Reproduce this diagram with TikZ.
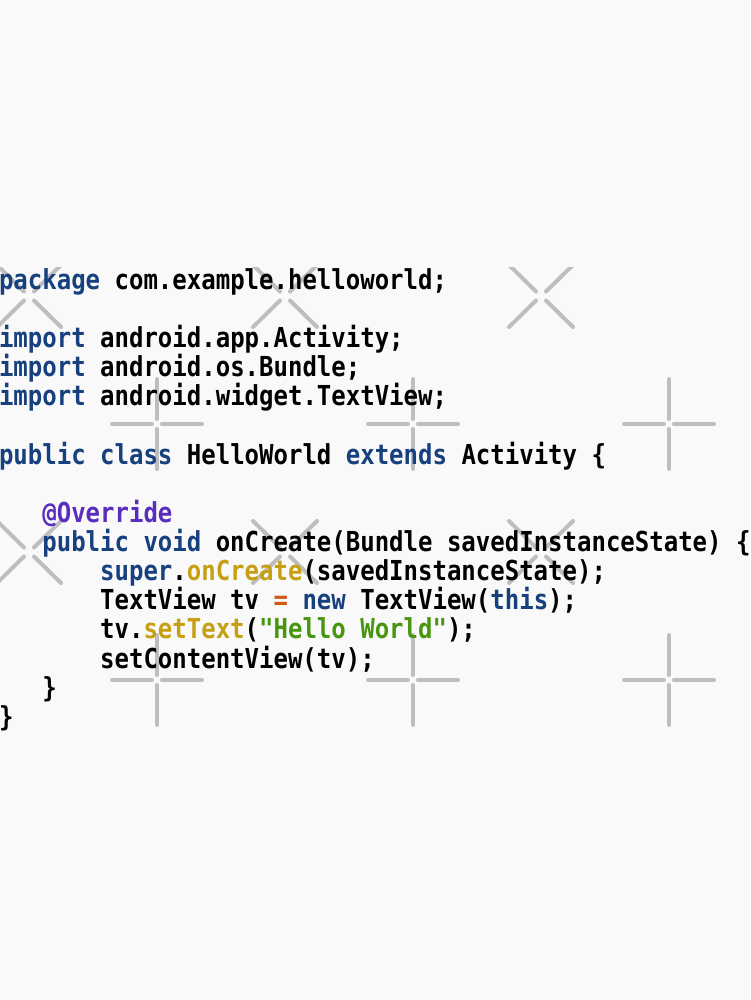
\documentclass[tikz,border=0pt]{standalone}
\usepackage{fontspec}
\newfontfamily\codefont[FakeStretch=0.873]{DejaVu Sans Mono}
\definecolor{pagebg}{HTML}{F9F9F9}
\definecolor{markgray}{HTML}{BEBEBE}
\definecolor{kw}{HTML}{17407F}
\definecolor{anno}{HTML}{5A2DBE}
\definecolor{meth}{HTML}{C79F12}
\definecolor{strg}{HTML}{46960F}
\definecolor{oper}{HTML}{CF5A17}
\newcommand{\K}[1]{\textcolor{kw}{#1}}
\newcommand{\M}[1]{\textcolor{meth}{#1}}
\tikzset{
  x=1pt,y=1pt,
  codeline/.style={anchor=base west,inner sep=0pt,outer sep=0pt,font=\codefont\fontsize{27.5}{29}\selectfont\bfseries,text=black},
  markline/.style={draw=markgray,line width=4pt,line cap=round}
}
\begin{document}
\begin{tikzpicture}
\useasboundingbox (0,0) rectangle (750,-1000);
\fill[pagebg] (0,0) rectangle (750,-1000);
\begin{scope}
  \clip (0,-267) rectangle (750,-1000);
  \foreach \cy in {-296,-552}{
    \foreach \cx in {29,285,541}{
      \foreach \sx/\sy in {1/1,1/-1,-1/1,-1/-1}{
        \draw[markline] (\cx+\sx*5,\cy+\sy*4.5) -- (\cx+\sx*32,\cy+\sy*31);
      }
    }
  }
  \foreach \cy in {-424,-680}{
    \foreach \cx in {157,413,669}{
      \draw[markline] (\cx+5,\cy) -- (\cx+45,\cy);
      \draw[markline] (\cx-5,\cy) -- (\cx-45,\cy);
      \draw[markline] (\cx,\cy+5) -- (\cx,\cy+45);
      \draw[markline] (\cx,\cy-5) -- (\cx,\cy-45);
    }
  }
\end{scope}
\node[codeline] (l1) at (-1,-289.1) {\K{package} com.example.helloworld;};
\node[codeline] (l2) at (-1,-347.4) {\K{import} android.app.Activity;};
\node[codeline] (l3) at (-1,-376.55) {\K{import} android.os.Bundle;};
\node[codeline] (l4) at (-1,-405.7) {\K{import} android.widget.TextView;};
\node[codeline] (l5) at (-1,-464) {\K{public class} HelloWorld \K{extends} Activity \{};
\node[codeline] (l6) at (42.35,-522.3) {\textcolor{anno}{@Override}};
\node[codeline] (l7) at (42.35,-551.45) {\K{public void} onCreate(Bundle savedInstanceState) \{};
\node[codeline] (l8) at (100.15,-580.6) {\K{super}.\M{onCreate}(savedInstanceState);};
\node[codeline] (l9) at (100.15,-609.75) {TextView tv \textcolor{oper}{=} \K{new} TextView(\K{this});};
\node[codeline] (l10) at (100.15,-638.9) {tv.\M{setText}(\textcolor{strg}{"Hello World"});};
\node[codeline] (l11) at (100.15,-668.05) {setContentView(tv);};
\node[codeline] (l12) at (42.35,-697.2) {\}};
\node[codeline] (l13) at (-1,-726.35) {\}};
\end{tikzpicture}
\end{document}
